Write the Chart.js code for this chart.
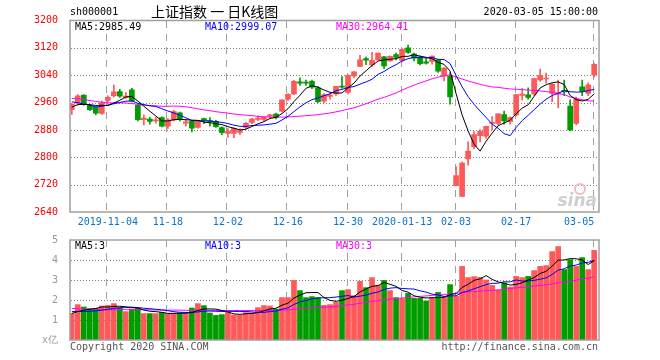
<!DOCTYPE html>
<html>
<head>
<meta charset="utf-8">
<script src="https://cdn.jsdelivr.net/npm/chart.js@4.4.1/dist/chart.umd.min.js"></script>
<style>
  html, body { margin: 0; padding: 0; background: #fff; }
  #wrap { position: relative; width: 660px; height: 360px; }
  #wrap canvas { position: absolute; left: 0; top: 0; }
</style>
</head>
<body>
<div id="wrap">
  <canvas id="kline" width="660" height="360"></canvas>
  <canvas id="vol" width="660" height="360"></canvas>
</div>
<script>
// trading days shown (sh000001, daily)
const dates = [
  '2019-10-25','2019-10-28','2019-10-29','2019-10-30','2019-10-31',
  '2019-11-01','2019-11-04','2019-11-05','2019-11-06','2019-11-07','2019-11-08',
  '2019-11-11','2019-11-12','2019-11-13','2019-11-14','2019-11-15',
  '2019-11-18','2019-11-19','2019-11-20','2019-11-21','2019-11-22',
  '2019-11-25','2019-11-26','2019-11-27','2019-11-28','2019-11-29',
  '2019-12-02','2019-12-03','2019-12-04','2019-12-05','2019-12-06',
  '2019-12-09','2019-12-10','2019-12-11','2019-12-12','2019-12-13',
  '2019-12-16','2019-12-17','2019-12-18','2019-12-19','2019-12-20',
  '2019-12-23','2019-12-24','2019-12-25','2019-12-26','2019-12-27',
  '2019-12-30','2019-12-31','2020-01-02','2020-01-03',
  '2020-01-06','2020-01-07','2020-01-08','2020-01-09','2020-01-10',
  '2020-01-13','2020-01-14','2020-01-15','2020-01-16','2020-01-17',
  '2020-01-20','2020-01-21','2020-01-22','2020-01-23',
  '2020-02-03','2020-02-04','2020-02-05','2020-02-06','2020-02-07',
  '2020-02-10','2020-02-11','2020-02-12','2020-02-13','2020-02-14',
  '2020-02-17','2020-02-18','2020-02-19','2020-02-20','2020-02-21',
  '2020-02-24','2020-02-25','2020-02-26','2020-02-27','2020-02-28',
  '2020-03-02','2020-03-03','2020-03-04','2020-03-05'
];

const opens = [
  2939.0, 2958.0, 2982.0, 2951.0, 2946.0, 2928.0, 2966.0, 2980.0, 2992.0, 2975.0,
  2997.0, 2953.0, 2910.0, 2912.0, 2906.0, 2916.0, 2891.0, 2909.0, 2930.0, 2900.0,
  2905.0, 2887.0, 2913.0, 2907.5, 2905.0, 2887.0, 2870.0, 2870.0, 2873.0, 2887.0,
  2902.0, 2911.0, 2911.0, 2920.0, 2926.0, 2935.0, 2970.0, 2985.0, 3021.0, 3019.0,
  3022.0, 3003.0, 2964.0, 2978.0, 2985.0, 3008.0, 2990.0, 3038.0, 3066.0, 3089.0,
  3070.0, 3085.0, 3094.0, 3082.0, 3100.0, 3083.0, 3120.0, 3102.0, 3094.0, 3079.0,
  3080.0, 3085.0, 3037.0, 3037.0, 2716.7, 2685.3, 2795.0, 2831.0, 2863.0, 2862.0,
  2899.0, 2899.0, 2925.0, 2904.0, 2924.0, 2981.0, 2983.0, 2985.0, 3026.0, 3029.0,
  2987.0, 2986.0, 2996.0, 2950.0, 2899.0, 3006.0, 2987.0, 3041.0
];
const highs = [
  2958.0, 2983.5, 2983.0, 2954.5, 2947.5, 2964.5, 2980.0, 3011.0, 2998.5, 2989.0,
  3002.0, 2954.0, 2924.0, 2917.0, 2917.0, 2918.0, 2913.0, 2937.0, 2932.0, 2910.0,
  2907.0, 2908.0, 2915.0, 2916.0, 2908.0, 2889.0, 2884.0, 2886.0, 2883.0, 2902.0,
  2914.0, 2921.0, 2919.0, 2926.0, 2929.0, 2968.0, 2986.0, 3025.0, 3032.0, 3026.0,
  3026.0, 3007.0, 2986.0, 2985.0, 3007.5, 3036.0, 3041.0, 3051.0, 3098.0, 3093.0,
  3107.0, 3105.0, 3095.0, 3097.0, 3105.0, 3118.0, 3128.0, 3105.0, 3096.0, 3089.0,
  3097.0, 3086.0, 3062.0, 3048.0, 2772.0, 2787.0, 2845.0, 2875.0, 2881.0, 2891.0,
  2919.0, 2927.0, 2935.0, 2918.0, 2984.0, 3001.0, 3003.0, 3031.0, 3058.0, 3046.0,
  3016.0, 3026.0, 3026.0, 2968.0, 2976.0, 3026.0, 3018.0, 3074.0
];
const lows = [
  2925.0, 2952.0, 2952.5, 2936.0, 2924.5, 2925.0, 2962.0, 2976.0, 2975.0, 2972.0,
  2962.0, 2906.0, 2895.0, 2897.0, 2900.0, 2889.0, 2884.0, 2906.0, 2906.0, 2891.0,
  2874.0, 2885.0, 2898.0, 2891.0, 2887.0, 2866.0, 2858.0, 2857.0, 2866.0, 2884.0,
  2898.0, 2907.0, 2906.0, 2914.0, 2912.0, 2933.0, 2966.0, 2983.0, 3010.0, 3010.0,
  3001.0, 2960.0, 2960.0, 2970.0, 2981.0, 3002.0, 2985.0, 3032.0, 3066.0, 3071.0,
  3065.0, 3084.0, 3059.0, 3080.0, 3085.0, 3079.0, 3104.0, 3082.0, 3070.0, 3072.0,
  3072.0, 3048.0, 3023.0, 2955.0, 2716.0, 2685.0, 2777.0, 2825.0, 2845.0, 2855.0,
  2880.0, 2895.0, 2897.0, 2897.0, 2920.0, 2968.0, 2970.0, 2980.0, 3022.0, 3017.0,
  2963.0, 2944.0, 2980.0, 2878.0, 2895.0, 2980.0, 2980.0, 3035.0
];
const closes = [
  2954.93, 2980.05, 2954.18, 2939.32, 2929.06, 2958.20, 2975.49, 2991.56, 2978.60, 2978.71,
  2964.18, 2909.97, 2914.82, 2905.24, 2909.87, 2891.34, 2909.20, 2933.99, 2911.05, 2903.64,
  2885.29, 2906.17, 2907.06, 2903.19, 2889.69, 2871.98, 2875.81, 2884.70, 2878.12, 2899.47,
  2912.01, 2914.48, 2917.32, 2924.42, 2915.70, 2967.68, 2984.39, 3022.42, 3017.04, 3017.07,
  3004.94, 2962.75, 2982.68, 2981.88, 3007.35, 3005.04, 3040.02, 3050.12, 3085.20, 3083.79,
  3083.41, 3104.80, 3066.89, 3094.88, 3092.29, 3115.57, 3106.82, 3090.04, 3074.08, 3075.50,
  3095.79, 3052.14, 3060.75, 2976.53, 2746.61, 2783.29, 2818.09, 2866.51, 2875.96, 2890.49,
  2901.67, 2926.90, 2906.07, 2917.01, 2983.62, 2984.97, 2975.40, 3030.15, 3039.67, 3031.23,
  3013.05, 2987.93, 2991.33, 2880.30, 2970.93, 2992.90, 3011.67, 3071.68
];
// volume, unit 亿
const volumes = [
  1.32, 1.77, 1.65, 1.57, 1.58, 1.70, 1.73, 1.82, 1.62, 1.42,
  1.55, 1.58, 1.32, 1.32, 1.32, 1.38, 1.32, 1.32, 1.35, 1.28,
  1.60, 1.82, 1.72, 1.35, 1.23, 1.27, 1.42, 1.25, 1.25, 1.37,
  1.35, 1.62, 1.72, 1.70, 1.55, 2.12, 2.12, 2.98, 2.47, 2.12,
  2.17, 2.12, 1.73, 1.77, 1.88, 2.47, 2.52, 2.22, 2.93, 2.62,
  3.12, 2.73, 2.98, 2.47, 2.12, 2.07, 2.33, 2.08, 2.08, 1.95,
  2.12, 2.38, 2.15, 2.77, 2.18, 3.68, 3.12, 3.17, 3.13, 3.00,
  2.73, 2.50, 2.85, 2.65, 3.18, 3.12, 3.18, 3.47, 3.68, 3.72,
  4.42, 4.67, 3.52, 4.02, 3.68, 4.12, 3.52, 4.48
];
// the 29 sessions before the window, needed for the moving averages
const prevCloses = [
  2999.60, 3024.74, 3021.20, 3008.81, 3031.24, 3030.75, 2978.12, 2985.66, 2999.28, 3006.45,
  2977.08, 2985.34, 2955.43, 2929.09, 2932.17, 2905.19, 2913.57, 2924.86, 2947.71, 2973.66,
  3007.88, 2991.05, 2977.33, 2977.15, 2938.14, 2939.62, 2954.38, 2941.62, 2940.92
];
const prevVolumes = [
  2.15, 2.25, 2.05, 1.82, 1.80, 1.90, 1.75, 1.50, 1.45, 1.55,
  1.55, 1.40, 1.50, 1.60, 1.45, 1.40, 1.30, 1.40, 1.55, 1.75,
  1.65, 1.70, 1.45, 1.35, 1.40, 1.28, 1.35, 1.30, 1.38
];

const tickDays = ['2019-11-04','2019-11-18','2019-12-02','2019-12-16','2019-12-30',
                  '2020-01-13','2020-02-03','2020-02-17','2020-03-05'];
const tickLabels = ['2019-11-04','11-18','12-02','12-16','12-30','2020-01-13','02-03','02-17','03-05'];
const priceTicks = [2640, 2720, 2800, 2880, 2960, 3040, 3120, 3200];
const volTicks = [0, 1, 2, 3, 4, 5];

const RED = '#ff5858';
const GREEN = '#009d00';
const MONO = '"DejaVu Sans Mono", monospace';
const X_MIN = -0.3, X_MAX = 87.8;

const tickIdx = tickDays.map(d => dates.indexOf(d));
const isUp = closes.map((c, i) => c >= opens[i]);
const candleColor = isUp.map(u => u ? RED : GREEN);

function movingAvg(prev, vals, n) {
  const all = prev.concat(vals);
  return vals.map((_, i) => {
    const end = prev.length + i + 1;
    let s = 0;
    for (let k = end - n; k < end; k++) s += all[k];
    return { x: i, y: s / n };
  });
}

function text(ctx, s, x, y, color, font, align) {
  ctx.save();
  ctx.fillStyle = color;
  ctx.font = font;
  ctx.textAlign = align || 'left';
  ctx.textBaseline = 'middle';
  ctx.fillText(s, x, y);
  ctx.restore();
}

// dotted price lines + dashed date lines, placed by the chart's scales
function drawGrid(chart) {
  const ctx = chart.ctx;
  const a = chart.chartArea;
  const xs = chart.scales.x, ys = chart.scales.y;
  const top = Math.ceil(a.top), bottom = Math.floor(a.bottom);
  const left = Math.ceil(a.left), right = Math.floor(a.right);
  ctx.save();
  ctx.fillStyle = '#808080';
  ys.ticks.forEach(t => {
    const py = Math.round(ys.getPixelForValue(t.value));
    if (py <= top + 2 || py >= bottom - 2) return;
    for (let x = left + 1; x < right; x += 3) ctx.fillRect(x, py, 1, 1);
  });
  ctx.fillStyle = '#a0a0a0';
  tickIdx.forEach(v => {
    const px = Math.floor(xs.getPixelForValue(v)) - 1;
    for (let y = top; y < bottom; y += 13) ctx.fillRect(px, y, 1, Math.min(7, bottom - y));
  });
  ctx.restore();
}

const gridLines = {
  id: 'gridLines',
  beforeDatasetsDraw(chart) { drawGrid(chart); }
};

const frame = {
  id: 'frame',
  afterDraw(chart) {
    const { ctx, chartArea: a } = chart;
    ctx.save();
    ctx.strokeStyle = '#a0a0a0';
    ctx.lineWidth = 1.5;
    ctx.strokeRect(a.left, a.top, a.right - a.left, a.bottom - a.top);
    ctx.restore();
  }
};

const mainTexts = {
  id: 'mainTexts',
  afterDraw(chart) {
    const ctx = chart.ctx;
    const xs = chart.scales.x;
    const right = chart.chartArea.right;
    text(ctx, 'sh000001', 70, 12, '#000', '10px ' + MONO);
    text(ctx, '上证指数 一 日K线图', 151, 12, '#000', '14px "Noto Sans CJK SC"');
    text(ctx, '2020-03-05 15:00:00', 598, 12, '#000', '10px ' + MONO, 'right');
    text(ctx, 'MA5:2985.49', 75, 27, '#000', '10px ' + MONO);
    text(ctx, 'MA10:2999.07', 205, 27, '#0000ff', '10px ' + MONO);
    text(ctx, 'MA30:2964.41', 336, 27, '#ff00ff', '10px ' + MONO);
    // date labels under the price panel
    ctx.save();
    ctx.font = '10px ' + MONO;
    tickIdx.forEach((v, k) => {
      const px = xs.getPixelForValue(v);
      const w = ctx.measureText(tickLabels[k]).width;
      const align = px + w / 2 > right ? 'right' : 'center';
      text(ctx, tickLabels[k], px, 222, '#0b74c8', '10px ' + MONO, align);
    });
    ctx.restore();
    // sina watermark
    ctx.save();
    ctx.strokeStyle = '#f2bcbc';
    ctx.lineWidth = 2;
    ctx.beginPath();
    ctx.arc(580, 189, 5, 0, Math.PI * 2);
    ctx.stroke();
    ctx.restore();
    text(ctx, 'sina', 597, 202, '#cfcfcf', 'italic bold 17px "DejaVu Sans"', 'right');
  }
};

const volTexts = {
  id: 'volTexts',
  afterDraw(chart) {
    const ctx = chart.ctx;
    text(ctx, 'MA5:3', 75, 246, '#000', '10px ' + MONO);
    text(ctx, 'MA10:3', 205, 246, '#0000ff', '10px ' + MONO);
    text(ctx, 'MA30:3', 336, 246, '#ff00ff', '10px ' + MONO);
    text(ctx, 'Copyright 2020 SINA.COM', 70, 347, '#555', '10px ' + MONO);
    text(ctx, 'http://finance.sina.com.cn', 598, 347, '#555', '10px ' + MONO, 'right');
  }
};

function xScale() {
  return {
    type: 'linear', min: X_MIN, max: X_MAX, offset: false,
    afterFit: s => { s.height = 0; },
    ticks: { display: false },
    grid: { display: false, offset: false },
    border: { display: false }
  };
}

const lineDs = (label, data, color) => ({
  type: 'line', label, data, borderColor: color, borderWidth: 1,
  pointRadius: 0, tension: 0, fill: false
});

// price panel
new Chart(document.getElementById('kline'), {
  type: 'bar',
  data: {
    datasets: [
      lineDs('MA5', movingAvg(prevCloses, closes, 5), '#000000'),
      lineDs('MA10', movingAvg(prevCloses, closes, 10), '#0000ff'),
      lineDs('MA30', movingAvg(prevCloses, closes, 30), '#ff00ff'),
      {
        label: 'body', grouped: false, barThickness: 5, minBarLength: 1,
        data: closes.map((c, i) => ({ x: i, y: [opens[i], c] })),
        backgroundColor: candleColor, borderWidth: 0
      },
      {
        label: 'wick', grouped: false, barThickness: 1,
        data: closes.map((c, i) => ({ x: i, y: [lows[i], highs[i]] })),
        backgroundColor: candleColor, borderWidth: 0
      }
    ]
  },
  options: {
    responsive: false, animation: false, events: [],
    layout: { padding: { left: 0, right: 61, top: 20.5, bottom: 148 } },
    plugins: { legend: { display: false }, tooltip: { enabled: false } },
    scales: {
      x: xScale(),
      y: {
        min: 2640, max: 3200,
        afterBuildTicks: s => { s.ticks = priceTicks.map(v => ({ value: v })); },
        afterFit: s => { s.width = 70; },
        ticks: { color: '#ff0000', font: { family: MONO, size: 10 }, padding: 4, callback: v => String(v) },
        grid: { display: false },
        border: { display: false }
      }
    }
  },
  plugins: [gridLines, frame, mainTexts]
});

// volume panel
new Chart(document.getElementById('vol'), {
  type: 'bar',
  data: {
    datasets: [
      lineDs('MA5', movingAvg(prevVolumes, volumes, 5), '#000000'),
      lineDs('MA10', movingAvg(prevVolumes, volumes, 10), '#0000ff'),
      lineDs('MA30', movingAvg(prevVolumes, volumes, 30), '#ff00ff'),
      {
        label: 'volume', barThickness: 5,
        data: volumes.map((v, i) => ({ x: i, y: v })),
        backgroundColor: candleColor, borderWidth: 0
      }
    ]
  },
  options: {
    responsive: false, animation: false, events: [],
    layout: { padding: { left: 0, right: 61, top: 240, bottom: 20 } },
    plugins: { legend: { display: false }, tooltip: { enabled: false } },
    scales: {
      x: xScale(),
      y: {
        min: 0, max: 5,
        afterBuildTicks: s => { s.ticks = volTicks.map(v => ({ value: v })); },
        afterFit: s => { s.width = 70; },
        ticks: { color: '#999999', font: { family: MONO, size: 10 }, padding: 4,
                 callback: v => v === 0 ? 'x亿' : String(v) },
        grid: { display: false },
        border: { display: false }
      }
    }
  },
  plugins: [gridLines, frame, volTexts]
});
</script>
</body>
</html>
